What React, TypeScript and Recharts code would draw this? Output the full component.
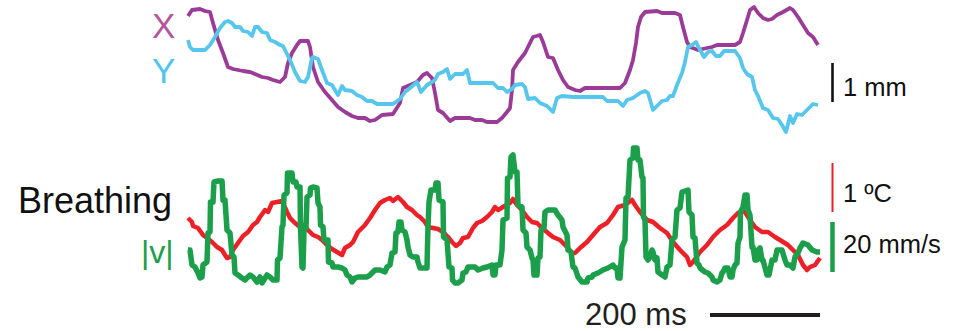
import React from "react";
import { LineChart, Line, XAxis, YAxis, ReferenceLine } from "recharts";

// Time base: video frames at 550 frames/s (1 frame = 1.818 ms)
const FPS = 550;
const SCALE_MS = 200;

// Top panel: X and Y position (camera units, 39 units = 1 mm)
const xFrames = [0,4,12,17,22,25,30,35,40,45,50,55,62,67,74,80,85,92,97,100,104,109,112,120,122,125,130,137,144,150,157,164,170,177,182,187,194,205,212,215,222,229,235,239,244,247,250,255,262,267,282,287,294,299,309,314,319,322,324,325,330,337,342,345,352,355,360,365,370,375,380,387,392,397,432,437,442,445,448,450,453,457,469,474,487,492,495,499,502,510,519,524,529,547,552,555,559,562,566,570,575,580,584,589,595,602,605,610,615,620,625,630];
const xPos = [114,120,121,119,118,107,90,77,63,61,60,59,58,56,53,52,50,48,53,67,77,85,89,89,83,63,48,38,30,23,18,14,12,12,9,10,15,16,27,42,45,48,55,57,52,37,20,17,9,12,12,10,10,8,8,12,18,22,40,60,68,77,87,93,95,88,73,72,60,50,43,40,39,42,42,47,60,70,87,103,113,118,119,117,117,115,103,88,83,80,82,83,85,85,88,97,110,120,123,117,112,110,111,115,118,122,120,113,105,97,93,85];

const yFrames = [0,2,5,17,22,27,32,37,40,44,47,52,55,60,64,67,70,74,79,82,87,92,95,97,102,107,112,117,120,124,125,130,134,139,144,150,154,157,164,169,174,179,184,189,205,212,217,222,229,233,239,244,247,250,255,259,262,267,275,279,282,305,310,315,319,324,327,334,337,340,347,352,359,365,369,374,385,415,419,430,435,439,445,452,457,460,465,470,474,479,482,485,489,494,497,500,504,508,511,516,520,524,528,532,536,547,552,555,559,564,567,570,575,580,585,590,594,598,602,605,609,614,619,625,630];
const yPos = [90,83,80,80,85,93,102,108,109,107,103,103,99,98,94,103,103,98,97,90,88,85,84,80,70,58,49,48,53,72,73,71,60,47,45,35,44,40,39,35,33,29,29,26,26,31,38,42,48,38,45,48,50,56,58,61,51,56,56,60,47,47,42,42,38,41,45,46,43,31,32,27,24,18,32,34,33,33,29,29,24,30,32,37,39,37,20,25,29,30,34,34,45,57,68,83,85,88,82,73,78,79,74,74,79,79,72,62,56,53,40,34,22,20,12,11,5,-2,14,7,16,15,20,26,25];

// Bottom panel: breathing temperature (sensor units, 49 units = 1 degC)
const tempFrames = [0,4,5,10,15,19,24,29,34,37,39,42,45,50,55,60,65,69,72,77,80,84,89,94,99,102,107,112,115,120,125,130,134,139,144,149,154,157,162,165,170,177,182,187,192,197,202,205,210,215,219,224,229,232,237,240,245,250,255,260,264,268,272,275,280,285,289,294,299,304,307,310,315,322,325,329,334,339,344,349,354,360,365,372,379,384,387,392,399,405,412,419,425,430,437,444,447,452,459,465,472,479,485,492,499,502,505,512,519,525,532,539,545,550,554,557,562,567,574,580,587,592,600,605,610,615,619,622,627,632];
const tempVal = [72,68,64,62,55,52,48,43,40,35,32,33,40,47,54,58,65,68,73,80,78,87,88,89,78,72,67,63,65,60,55,53,50,45,41,38,35,42,45,48,58,65,72,80,87,90,92,89,93,88,83,80,75,73,68,63,62,61,58,53,48,44,47,52,53,62,67,69,73,78,83,80,83,87,91,85,80,73,68,67,62,57,53,50,43,37,37,42,48,55,63,67,75,83,85,90,85,78,70,68,62,57,48,40,33,25,28,38,45,53,60,65,72,77,79,78,70,63,58,58,53,50,45,40,35,25,20,23,25,32];

// Bottom panel: |v| speed (sensor units, 50 units = 20 mm/s)
const speedFrames = [0,2,4,7,10,12,14,15,19,20,22,22.5,25,26,30,34,35,37,39,42,44,46,47,50,54,57,62,65,69,72,74,79,82,85,89,89.5,92,94,95,96,99,99.5,104,105,108,109,112,112.5,114,115,116,118,119,122,122.5,125,129,130,132,132.5,135,136,140,140.5,144,145,150,154,157,159,162,164,167,170,179,182,187,192,197,199,202,204,207,208,210,211,213,214,217,219,220,222,225,229,230,232,239,239.5,240,241,243,247,248,250,251,255,255.5,259,261,264,264.5,267,270,274,275,278,280,287,290,295,299,304,305,307,308,312,314,315,319,319.5,322,323,325,327,329,330,334,335,338,339,342,344,345,346,349,350,352,353,356,357,360,367,370,374,375,379,380,383,385,387,390,394,399,400,404,405,410,415,420,425,427,429,430,432,434,437,438,440,442,445,445.5,449,450,452,454,455,455.5,457,458,460,462,464,465,467,469,470,474,477,478,479,482,484,487,489,492,494,500,501,504,505,507,509,511,512,517,520,524,525,529,532,534,535,537,540,542,544,545,547,549,550,552,552.5,555,557,559,560,562,564,565,567,569,570,572,574,575,579,581,584,587,589,594,597,599,602,605,607,610,612,615,620,624,629,632];
const speedVal = [40,40,25,23,17,12,13,25,28,57,58,88,88,108,109,109,90,90,60,57,35,33,17,15,12,10,15,13,8,13,7,15,13,10,10,30,32,63,65,95,97,117,117,108,108,103,103,62,23,22,60,62,93,95,102,103,102,87,83,65,63,50,50,28,27,23,23,22,20,15,13,8,12,13,13,15,20,20,18,23,25,37,38,57,58,68,68,60,58,50,43,35,33,33,28,22,22,45,63,88,100,100,107,107,90,88,53,50,23,22,10,7,7,10,17,18,23,23,20,22,23,25,15,15,25,25,40,70,72,112,113,133,135,118,118,85,83,60,57,43,40,32,30,15,15,32,33,60,62,78,80,80,75,70,63,55,40,38,23,22,13,8,8,12,13,15,17,20,22,25,22,22,12,12,43,50,92,93,130,132,142,142,130,130,113,112,73,70,33,30,33,40,38,30,32,18,15,13,18,23,25,50,53,80,82,98,100,78,75,53,52,27,25,22,18,17,13,10,8,10,17,18,22,22,13,13,20,25,27,47,53,78,83,95,95,80,75,43,43,30,30,40,42,30,30,15,15,30,30,40,40,30,25,25,22,33,37,42,47,45,40,38,38];

const purple = "#9a3c97";
const blue = "#56c6ec";
const red = "#ed1f27";
const green = "#1b9f4a";

const toRows = (frames: number[], vals: number[]) =>
  frames.map((f, i) => ({ f, v: vals[i] }));

const xData = toRows(xFrames, xPos);
const yData = toRows(yFrames, yPos);
const tempData = toRows(tempFrames, tempVal);
const speedData = toRows(speedFrames, speedVal);

// Scale bars (data units)
const timeBarEnd = 632;
const timeBarStart = timeBarEnd - (SCALE_MS / 1000) * FPS;
const mmBar = [28, 67];
const degBar = [78, 127];
const speedBar = [18, 68];
const barFrame = 644.5;
const timeBarLevel = -25;

const font = "'Liberation Sans', Arial, Helvetica, sans-serif";

export default function App() {
  return (
    <div style={{ position: "absolute", left: 0, top: 0, width: 964, height: 331, background: "#fff" }}>
      <LineChart
        width={964}
        height={331}
        margin={{ top: 0, right: 0, bottom: 0, left: 188 }}
      >
        <XAxis dataKey="f" type="number" domain={[0, 776]} hide allowDuplicatedCategory={false} />
        <YAxis yAxisId="pos" type="number" domain={[-201, 130]} hide />
        <YAxis yAxisId="temp" type="number" domain={[-41, 290]} hide />
        <YAxis yAxisId="speed" type="number" domain={[-41, 290]} hide />
        <Line yAxisId="pos" data={xData} dataKey="v" type="linear" stroke={purple} strokeWidth={3.8} dot={false} isAnimationActive={false} strokeLinejoin="round" />
        <Line yAxisId="pos" data={yData} dataKey="v" type="linear" stroke={blue} strokeWidth={3.8} dot={false} isAnimationActive={false} strokeLinejoin="round" />
        <Line yAxisId="temp" data={tempData} dataKey="v" type="linear" stroke={red} strokeWidth={4.5} dot={false} isAnimationActive={false} strokeLinejoin="round" />
        <Line yAxisId="speed" data={speedData} dataKey="v" type="linear" stroke={green} strokeWidth={5.5} dot={false} isAnimationActive={false} strokeLinejoin="round" />
        <ReferenceLine yAxisId="pos" segment={[{ x: barFrame, y: mmBar[0] }, { x: barFrame, y: mmBar[1] }]} stroke="#111" strokeWidth={2.6} />
        <ReferenceLine yAxisId="temp" segment={[{ x: barFrame, y: degBar[0] }, { x: barFrame, y: degBar[1] }]} stroke={red} strokeWidth={2} />
        <ReferenceLine yAxisId="speed" segment={[{ x: barFrame, y: speedBar[0] }, { x: barFrame, y: speedBar[1] }]} stroke={green} strokeWidth={4.5} />
        <ReferenceLine yAxisId="speed" segment={[{ x: timeBarStart, y: timeBarLevel }, { x: timeBarEnd, y: timeBarLevel }]} stroke="#231f20" strokeWidth={4} />
      </LineChart>
      <svg width={964} height={331} style={{ position: "absolute", left: 0, top: 0, pointerEvents: "none" }}>
        <g fontFamily={font}>
          <text x={152} y={38} fontSize={35} fill="#b4569f">X</text>
          <text x={152} y={83} fontSize={35} fill="#50c4ec">Y</text>
          <text x={18} y={213} fontSize={36} fill="#111">Breathing</text>
          <text x={141} y={263} fontSize={32} fill={green}>|v|</text>
          <text x={843} y={96} fontSize={25.5} fill="#111">1 mm</text>
          <text x={843} y={202} fontSize={25.5} fill="#111">1 ºC</text>
          <text x={843} y={253} fontSize={25.5} fill="#111">20 mm/s</text>
          <text x={585} y={325} fontSize={31} fill="#231f20">200 ms</text>
        </g>
      </svg>
    </div>
  );
}
